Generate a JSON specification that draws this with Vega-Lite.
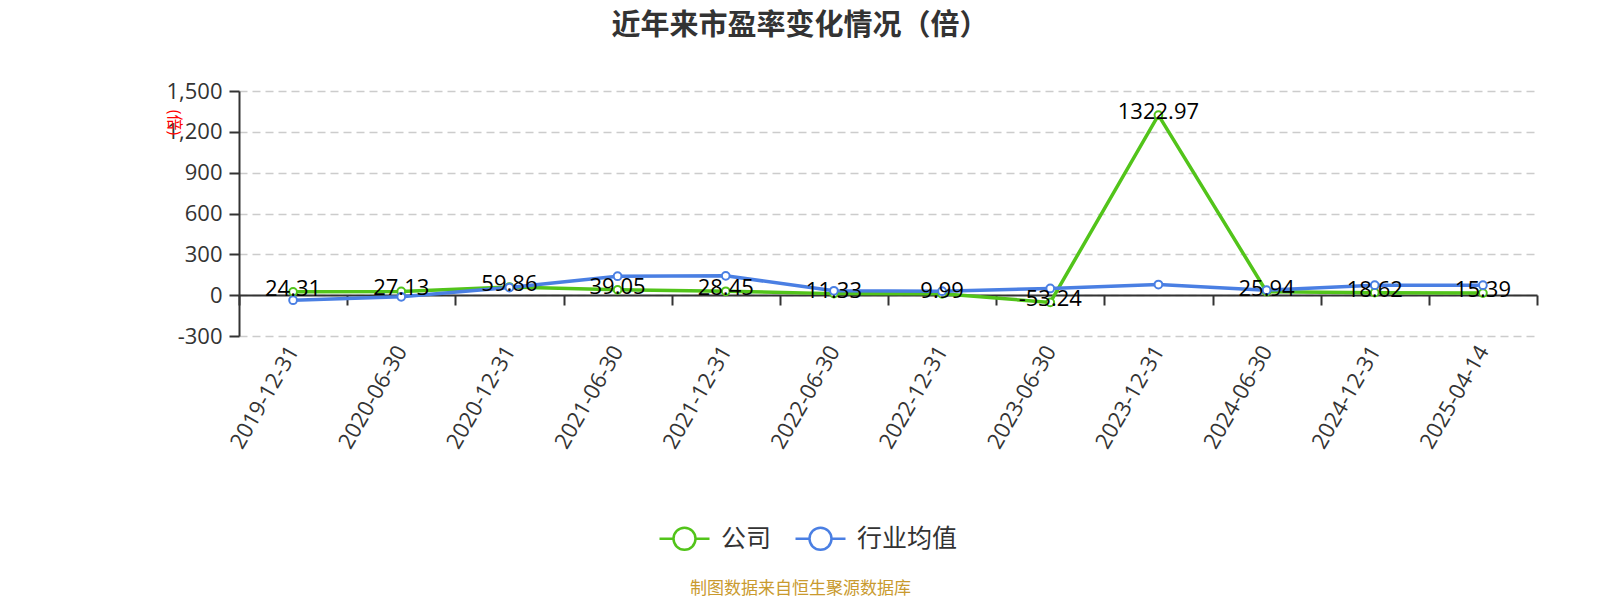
{
  "$schema": "https://vega.github.io/schema/vega-lite/v6.json",
  "autosize": "none",
  "width": 1298,
  "height": 245,
  "padding": {"left": 239, "top": 91, "right": 63, "bottom": 264},
  "background": "white",
  "title": {
    "text": "近年来市盈率变化情况（倍）",
    "fontSize": 29,
    "fontWeight": "bold",
    "color": "#333333",
    "anchor": "middle",
    "dx": -88,
    "offset": 39
  },
  "data": {
    "values": [
      {"date": "2019-12-31", "series": "公司", "pe": 24.31},
      {"date": "2020-06-30", "series": "公司", "pe": 27.13},
      {"date": "2020-12-31", "series": "公司", "pe": 59.86},
      {"date": "2021-06-30", "series": "公司", "pe": 39.05},
      {"date": "2021-12-31", "series": "公司", "pe": 28.45},
      {"date": "2022-06-30", "series": "公司", "pe": 11.33},
      {"date": "2022-12-31", "series": "公司", "pe": 9.99},
      {"date": "2023-06-30", "series": "公司", "pe": -53.24},
      {"date": "2023-12-31", "series": "公司", "pe": 1322.97},
      {"date": "2024-06-30", "series": "公司", "pe": 25.94},
      {"date": "2024-12-31", "series": "公司", "pe": 18.62},
      {"date": "2025-04-14", "series": "公司", "pe": 15.39},
      {"date": "2019-12-31", "series": "行业均值", "pe": -37},
      {"date": "2020-06-30", "series": "行业均值", "pe": -12},
      {"date": "2020-12-31", "series": "行业均值", "pe": 56},
      {"date": "2021-06-30", "series": "行业均值", "pe": 139},
      {"date": "2021-12-31", "series": "行业均值", "pe": 142},
      {"date": "2022-06-30", "series": "行业均值", "pe": 32},
      {"date": "2022-12-31", "series": "行业均值", "pe": 29},
      {"date": "2023-06-30", "series": "行业均值", "pe": 49},
      {"date": "2023-12-31", "series": "行业均值", "pe": 78},
      {"date": "2024-06-30", "series": "行业均值", "pe": 37},
      {"date": "2024-12-31", "series": "行业均值", "pe": 73},
      {"date": "2025-04-14", "series": "行业均值", "pe": 73}
    ]
  },
  "encoding": {
    "x": {
      "field": "date",
      "type": "ordinal",
      "sort": null,
      "scale": {"type": "band", "paddingInner": 0, "paddingOuter": 0},
      "axis": {
        "offset": -41,
        "tickBand": "extent",
        "domainColor": "#333333",
        "domainWidth": 2,
        "tickColor": "#333333",
        "tickWidth": 2,
        "tickSize": 10,
        "labelAngle": -60,
        "labelAlign": "right",
        "labelBaseline": "middle",
        "labelFontSize": 22,
        "labelColor": "#333333",
        "labelPadding": 42,
        "grid": false,
        "title": "制图数据来自恒生聚源数据库",
        "titleColor": "#c99a2e",
        "titleFontSize": 17,
        "titleFontWeight": "normal",
        "titleX": 561,
        "titleY": 293,
        "titleAlign": "center",
        "titleBaseline": "middle"
      }
    },
    "y": {
      "field": "pe",
      "type": "quantitative",
      "scale": {"domain": [-300, 1500], "nice": false, "zero": false},
      "axis": {
        "values": [-300, 0, 300, 600, 900, 1200, 1500],
        "labelExpr": "replace(format(datum.value, ',.0f'), '\u2212', '-')",
        "domainColor": "#333333",
        "domainWidth": 2,
        "tickColor": "#333333",
        "tickWidth": 2,
        "tickSize": 10,
        "labelFontSize": 22,
        "labelColor": "#333333",
        "labelPadding": 7,
        "grid": true,
        "gridColor": "#cccccc",
        "gridWidth": 1.5,
        "gridDash": [8, 5],
        "title": "(倍)",
        "titleColor": "#ff0000",
        "titleFontSize": 16,
        "titleFontWeight": "normal",
        "titleAngle": 90,
        "titleX": -66,
        "titleY": 31,
        "titleAlign": "center",
        "titleBaseline": "middle"
      }
    }
  },
  "layer": [
    {
      "mark": {"type": "line", "strokeWidth": 3.5},
      "encoding": {
        "color": {
          "field": "series",
          "type": "nominal",
          "scale": {"domain": ["公司", "行业均值"], "range": ["#52c41a", "#4a7fe3"]},
          "legend": {
            "orient": "none",
            "direction": "horizontal",
            "legendX": 419,
            "legendY": 421,
            "title": null,
            "padding": 0,
            "symbolType": "M-1,0L-0.44,0M0.44,0L1,0M-0.44,0A0.44,0.44 0 1,1 0.44,0A0.44,0.44 0 1,1 -0.44,0",
            "symbolSize": 2500,
            "symbolStrokeWidth": 2.5,
            "symbolFillColor": "white",
            "labelFontSize": 25,
            "labelColor": "#333333",
            "labelOffset": 10,
            "columnPadding": 18
          }
        }
      }
    },
    {
      "mark": {"type": "point", "filled": false, "fill": "white", "fillOpacity": 1, "size": 60, "strokeWidth": 2, "opacity": 1},
      "encoding": {
        "stroke": {
          "field": "series",
          "type": "nominal",
          "scale": {"domain": ["公司", "行业均值"], "range": ["#52c41a", "#4a7fe3"]},
          "legend": null
        }
      }
    },
    {
      "transform": [
        {"filter": "datum.series === '公司'"},
        {"calculate": "replace(format(datum.pe, '.2f'), '\u2212', '-')", "as": "label"}
      ],
      "mark": {"type": "text", "fontSize": 22, "color": "#000000", "baseline": "middle", "dy": -3},
      "encoding": {
        "text": {"field": "label", "type": "nominal"}
      }
    }
  ],
  "config": {
    "font": "Open Sans, Noto Sans CJK SC",
    "view": {"stroke": null}
  }
}
